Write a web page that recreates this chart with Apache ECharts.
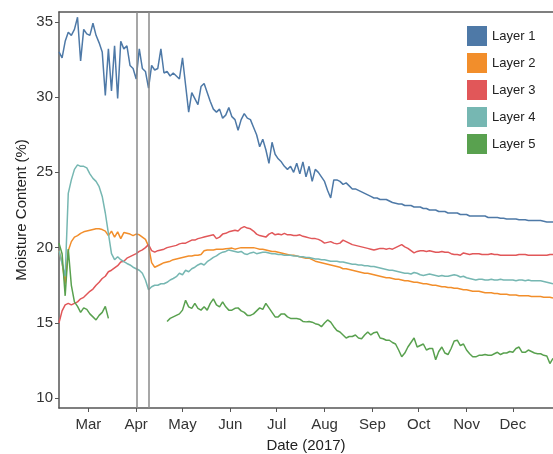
<!DOCTYPE html>
<html>
<head>
<meta charset="utf-8">
<title>Moisture Content 2017</title>
<script src="https://cdn.jsdelivr.net/npm/echarts@6/dist/echarts.min.js"></script>
<style>
  html, body { margin: 0; padding: 0; background: #fff; }
  #chart { width: 553px; height: 454px; }
</style>
</head>
<body>
<div id="chart"></div>
<script>
// readings every 2 days, first one on 10 Feb 2017
const startDay = [2017, 1, 10];
const stepDays = 2;

const layer1 = [
  33.0, 32.6, 33.7, 34.3, 34.1, 34.5, 35.3, 32.4, 34.5, 34.2,
  34.1, 34.9, 34.1, 33.6, 33.0, 30.1, 33.2, 30.4, 33.4, 29.9,
  33.7, 33.2, 33.4, 32.1, 31.9, 31.2, 33.2, 31.9, 31.7, 30.6,
  32.1, 31.8, 31.9, 33.2, 31.6, 31.7, 31.4, 31.6, 31.4, 31.2,
  32.6, 30.8, 29.0, 30.3, 29.9, 29.5, 30.7, 30.9, 30.3, 29.7,
  29.2, 29.0, 29.2, 28.6, 28.8, 29.3, 28.7, 28.5, 27.8, 28.5,
  28.9, 28.6, 28.5, 28.0, 27.5, 26.7, 27.2, 26.5, 25.6, 27.0,
  26.2, 25.9, 25.7, 25.4, 25.2, 25.4, 25.0, 25.6, 24.9, 25.7,
  24.7, 25.4, 24.4, 25.2, 25.0, 24.7, 24.4, 23.8, 23.3, 24.5,
  24.5, 24.4, 24.2, 24.3, 24.1, 23.9, 23.9, 23.8, 23.7, 23.6,
  23.5, 23.4, 23.3, 23.3, 23.2, 23.2, 23.2, 23.1, 23.0, 22.95,
  22.9, 22.9, 22.8, 22.8, 22.8, 22.7, 22.7, 22.7, 22.6, 22.6,
  22.5, 22.5, 22.5, 22.4, 22.4, 22.4, 22.3, 22.3, 22.3, 22.3,
  22.2, 22.2, 22.2, 22.1, 22.1, 22.1, 22.1, 22.1, 22.1, 22.0,
  22.0, 22.0, 22.0, 21.95, 21.95, 21.9, 21.9, 21.9, 21.9, 21.85,
  21.85, 21.85, 21.8, 21.8, 21.8, 21.8, 21.8, 21.75, 21.7, 21.7,
  21.7
];
const layer2 = [
  19.8, 19.0, 17.6, 19.8, 20.4, 20.7, 20.8, 20.95, 21.05, 21.1,
  21.15, 21.2, 21.25, 21.25, 21.2, 21.1, 20.8, 21.1, 20.7, 21.05,
  20.6, 21.0, 20.95, 20.9, 20.8, 20.9, 20.85, 20.7, 20.55, 20.1,
  19.0, 18.7, 18.8, 18.9, 19.0, 19.05, 19.1, 19.2, 19.25, 19.3,
  19.35, 19.4, 19.45, 19.45, 19.5, 19.5, 19.55, 19.8, 19.85, 19.85,
  19.85, 19.9, 19.9, 19.9, 19.93, 19.95, 19.97, 19.9, 19.95, 20.0,
  20.0, 20.0, 20.0, 20.0, 19.95, 19.9, 19.9, 19.85, 19.8, 19.75,
  19.75, 19.7, 19.65, 19.6, 19.55, 19.5, 19.5, 19.45, 19.4, 19.35,
  19.3, 19.3, 19.2, 19.1, 19.05, 19.0, 18.95, 18.9, 18.85, 18.8,
  18.75, 18.7, 18.6, 18.6, 18.55, 18.5, 18.45, 18.4, 18.35, 18.3,
  18.3, 18.25, 18.2, 18.15, 18.1, 18.05, 18.0, 18.0, 17.95, 17.9,
  17.9, 17.85, 17.8, 17.8, 17.75, 17.7, 17.7, 17.65, 17.6, 17.6,
  17.55, 17.5, 17.5, 17.45, 17.4, 17.4, 17.35, 17.35, 17.3, 17.3,
  17.25, 17.2, 17.2, 17.15, 17.1, 17.1, 17.1, 17.05, 17.0, 17.0,
  17.0, 16.95, 16.95, 16.9, 16.9, 16.9, 16.85, 16.85, 16.85, 16.8,
  16.8, 16.8, 16.8, 16.75, 16.75, 16.75, 16.75, 16.7, 16.7, 16.7,
  16.65
];
const layer3 = [
  15.0, 15.8, 16.2, 16.3, 16.2, 16.3, 16.4, 16.6, 16.7, 16.9,
  17.1, 17.25, 17.5, 17.7, 17.95, 18.1, 18.4, 18.5, 18.65, 18.8,
  19.05, 19.1, 19.3, 19.4, 19.5, 19.6, 19.75, 19.85, 20.0, 20.2,
  19.8, 19.7, 19.8, 19.85, 19.9, 20.0, 20.05, 20.1, 20.15, 20.25,
  20.3, 20.3, 20.4, 20.5, 20.5, 20.6, 20.65, 20.7, 20.75, 20.8,
  20.85, 20.6, 20.7, 20.9, 20.95, 21.05, 21.1, 21.15, 21.1, 21.3,
  21.4, 21.3, 21.25, 21.1, 20.9, 20.8, 20.75, 20.7, 20.9, 21.0,
  20.85, 20.9, 20.85, 20.95, 20.85, 20.85, 20.8, 20.8, 20.85, 20.75,
  20.7, 20.65, 20.6, 20.6, 20.55, 20.45, 20.3, 20.35, 20.4, 20.3,
  20.25, 20.3, 20.5, 20.4, 20.3, 20.2, 20.15, 20.1, 20.05, 20.0,
  19.95, 19.9, 19.85, 19.9, 19.95, 19.95, 19.9, 19.95, 19.9, 20.0,
  20.1, 20.2, 20.05, 19.95, 19.8, 19.65, 19.75, 19.8, 19.8, 19.75,
  19.8, 19.75, 19.7, 19.7, 19.75, 19.7, 19.7, 19.6, 19.55, 19.55,
  19.5, 19.65, 19.6, 19.55, 19.6, 19.6, 19.6, 19.55, 19.55, 19.55,
  19.6, 19.55, 19.55, 19.5, 19.5, 19.5, 19.5, 19.5, 19.5, 19.55,
  19.55, 19.55, 19.5, 19.5, 19.5, 19.5, 19.5, 19.5, 19.5, 19.55,
  19.55
];
const layer4 = [
  19.8, 18.95, 18.1, 23.6, 24.5, 25.2, 25.5, 25.4, 25.4, 25.3,
  24.9, 24.6, 24.4, 24.05, 23.4, 22.3, 20.95, 19.6, 19.2, 19.4,
  19.2, 19.07, 18.95, 18.85, 18.7, 18.6, 18.5, 18.3, 17.85, 17.2,
  17.4, 17.5, 17.5, 17.6, 17.6, 17.7, 17.85, 17.95, 18.07, 18.3,
  18.2, 18.5, 18.4, 18.6, 18.7, 18.85, 18.95, 18.85, 19.07, 19.2,
  19.35, 19.45, 19.6, 19.7, 19.75, 19.85, 19.8, 19.75, 19.7, 19.75,
  19.6, 19.55, 19.65, 19.7, 19.6, 19.65, 19.7, 19.7, 19.65, 19.6,
  19.6, 19.55, 19.55, 19.5, 19.5, 19.5, 19.45, 19.45, 19.4, 19.4,
  19.35, 19.35, 19.3, 19.25, 19.25, 19.2, 19.2, 19.15, 19.1, 19.1,
  19.1, 19.05, 19.05, 19.0, 18.95, 18.9, 18.9, 18.85, 18.85, 18.8,
  18.8, 18.75, 18.75, 18.7, 18.65, 18.6, 18.55, 18.5, 18.5, 18.45,
  18.4, 18.35, 18.3, 18.3, 18.25, 18.35, 18.3, 18.2, 18.15, 18.2,
  18.25, 18.2, 18.15, 18.1, 18.15, 18.1, 18.1, 18.15, 18.2, 18.15,
  18.05, 18.1, 18.0, 17.95, 17.9, 17.85, 17.9, 17.9, 17.85, 17.85,
  17.9, 17.85, 17.85, 17.9, 17.85, 17.85, 17.85, 17.85, 17.8, 17.85,
  17.85, 17.8, 17.85, 17.8, 17.8, 17.8, 17.8, 17.75, 17.7, 17.65,
  17.6
];
// sensor 5 was off between mid March and late April
const layer5 = [
  20.3, 19.6, 16.8, 19.9, 17.5, 16.4, 16.1, 15.7, 16.0, 15.9,
  15.6, 15.4, 15.2, 15.5, 15.7, 16.1, 15.3, null, null, null,
  null, null, null, null, null, null, null, null, null, null,
  null, null, null, null, null, 15.1, 15.3, 15.4, 15.5, 15.6,
  15.85, 16.5, 16.07, 15.97, 16.3, 15.97, 15.85, 16.07, 15.85, 16.3,
  16.6, 16.2, 16.07, 16.4, 16.07, 15.85, 15.85, 15.97, 16.0, 15.8,
  15.7, 15.5, 15.5, 15.6, 15.8, 16.0, 15.9, 16.3, 16.0, 15.7,
  15.4, 15.4, 15.6, 15.6, 15.4, 15.3, 15.3, 15.3, 15.25, 15.1,
  15.07, 15.1, 15.05, 14.95, 14.9, 14.75, 15.0, 15.2, 15.05, 14.75,
  14.5, 14.4, 14.2, 14.0, 14.1, 14.1, 14.2, 14.0, 13.95, 14.2,
  14.4, 14.2, 14.35, 14.4, 14.0, 13.95, 13.85, 13.85, 13.7, 13.6,
  13.2, 12.75, 13.0, 13.4, 13.7, 14.0, 13.4, 13.5, 13.6, 13.2,
  13.3, 13.3, 12.55, 13.1, 13.4, 13.0, 12.9, 13.3, 13.8, 13.85,
  13.5, 13.6, 13.2, 12.95, 12.75, 12.75, 12.85, 12.85, 12.9, 12.85,
  12.85, 12.95, 13.05, 12.9, 13.0, 13.0, 13.1, 13.05, 13.3, 13.4,
  13.05, 13.05, 13.2, 13.1, 13.0, 12.95, 12.95, 12.85, 12.8, 12.3,
  12.65
];

const layerNames = ["Layer 1", "Layer 2", "Layer 3", "Layer 4", "Layer 5"];
const layerColors = ["#4e79a7", "#f28e2b", "#e15759", "#76b7b2", "#59a14f"];
const monthLabels = ["Jan", "Feb", "Mar", "Apr", "May", "Jun", "Jul", "Aug", "Sep", "Oct", "Nov", "Dec"];
const yTicks = [10, 15, 20, 25, 30, 35];
// the two events marked by vertical lines
const eventDays = [[2017, 3, 1, 16], [2017, 3, 9, 0]];

const dates = layer1.map((v, i) =>
  new Date(startDay[0], startDay[1], startDay[2] + i * stepDays).getTime()
);
const monthTicks = [2, 3, 4, 5, 6, 7, 8, 9, 10, 11].map((m) => new Date(2017, m, 1).getTime());
const xMin = new Date(2017, 1, 10).getTime();
const xMax = new Date(2017, 11, 27).getTime();

const textColor = "#333";
const axisColor = "#555";
const font = "Liberation Sans";

var echart = echarts.init(document.getElementById("chart"));

const layers = [layer1, layer2, layer3, layer4, layer5];
const series = layers.map((layer, k) => {
  return {
    name: layerNames[k],
    type: "line",
    symbol: "none",
    showSymbol: false,
    color: layerColors[k],
    lineStyle: { width: 1.5, color: layerColors[k] },
    data: dates.map((t, i) => [t, layer[i]]),
  };
});
series[0].markLine = {
  silent: true,
  symbol: "none",
  label: { show: false },
  lineStyle: { color: "#8a8a8a", width: 1.5, type: "solid" },
  data: eventDays.map((d) => ({ xAxis: new Date(d[0], d[1], d[2], d[3]).getTime() })),
};

// x is a plain value axis holding timestamps, so month ticks can be placed by hand
const option = {
  animation: false,
  backgroundColor: "#fff",
  textStyle: { fontFamily: font },
  legend: {
    orient: "vertical",
    left: 467,
    top: 26,
    padding: 0,
    icon: "rect",
    itemWidth: 20,
    itemHeight: 20,
    itemGap: 7,
    textStyle: { fontSize: 13, color: "#222", fontFamily: font },
    data: layerNames,
  },
  grid: {
    left: 59,
    right: 0,
    top: 12,
    bottom: 46,
    outerBoundsMode: "none",
  },
  xAxis: [
    {
      type: "value",
      min: xMin,
      max: xMax,
      name: "Date (2017)",
      nameLocation: "middle",
      nameGap: 30,
      nameMoveOverlap: false,
      nameTextStyle: { fontSize: 15, color: "#222", fontFamily: font },
      axisLine: { lineStyle: { color: axisColor, width: 1.5 } },
      axisTick: {
        show: true,
        length: 4,
        customValues: monthTicks,
        lineStyle: { color: axisColor },
      },
      axisLabel: {
        customValues: monthTicks,
        fontSize: 15,
        color: textColor,
        margin: 9,
        formatter: (val) => monthLabels[new Date(val).getMonth()],
      },
      splitLine: { show: false },
    },
    {
      type: "value",
      position: "top",
      min: xMin,
      max: xMax,
      axisLine: { show: true, lineStyle: { color: axisColor, width: 1.5 } },
      axisTick: { show: false },
      axisLabel: { show: false },
      splitLine: { show: false },
    },
  ],
  yAxis: {
    type: "value",
    min: 9.35,
    max: 35.65,
    name: "Moisture Content (%)",
    nameLocation: "middle",
    nameGap: 30,
    nameMoveOverlap: false,
    nameTextStyle: { fontSize: 15, color: "#222", fontFamily: font },
    axisLine: { show: true, lineStyle: { color: axisColor, width: 1.5 } },
    axisTick: {
      show: true,
      length: 4,
      customValues: yTicks,
      lineStyle: { color: axisColor },
    },
    axisLabel: {
      customValues: yTicks,
      fontSize: 15,
      color: textColor,
      margin: 6,
    },
    splitLine: { show: false },
  },
  series: series,
};
echart.setOption(option);
</script>
</body>
</html>
